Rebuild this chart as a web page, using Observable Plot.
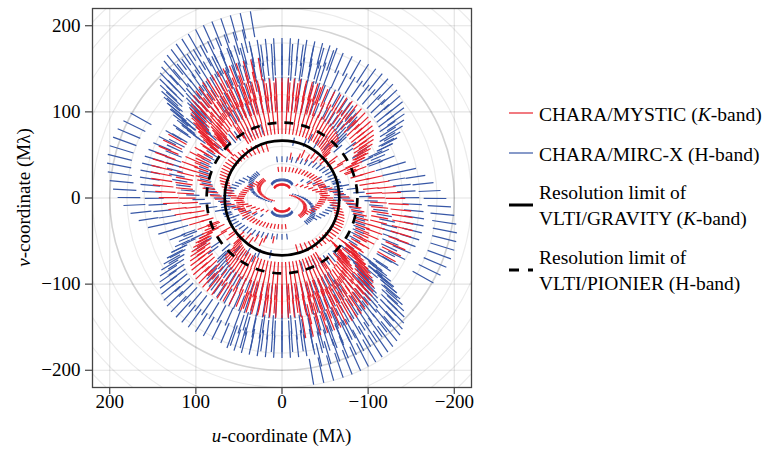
<!DOCTYPE html>
<html><head><meta charset="utf-8">
<script src="https://cdn.jsdelivr.net/npm/d3@7"></script>
<script src="https://cdn.jsdelivr.net/npm/@observablehq/plot@0.6"></script>
<style>
body{margin:0;background:#fff;}
#wrap{position:relative;width:769px;height:449px;font-family:"Liberation Serif",serif;background:#fff;}
.leg{position:absolute;left:539px;font-size:19.5px;line-height:26px;color:#000;white-space:nowrap;}
.sw{position:absolute;left:509px;}
</style></head><body><div id="wrap"></div>
<script>
// Projected baselines (metres, [u, v]) of the CHARA baseline tracks
const S1S2 = [[19.1,25.7],[18.6,26.6],[17.9,27.5],[17.1,28.4],[16.2,29.2],[15.1,30.0],[14.0,30.8],[12.7,31.4],[11.3,32.0],[9.9,32.6],[8.3,33.0],[6.8,33.4],[5.1,33.7],[3.4,33.9],[1.7,34.0],[0,34.1],[-1.7,34.0],[-3.4,33.9],[-5.1,33.7],[-6.8,33.4],[-8.3,33.0],[-9.9,32.6],[-11.3,32.0],[-12.7,31.4],[-14.0,30.8],[-15.1,30.0],[-16.2,29.2],[-17.1,28.4],[-17.9,27.5],[-18.6,26.6],[-19.1,25.7]];
const E1E2 = [[20.0,-7.1],[24.8,-6.0],[29.3,-4.6],[33.6,-3.0],[37.7,-1.2],[41.4,0.7],[44.9,2.9],[48.0,5.2],[50.7,7.7],[53.1,10.3],[55.1,13.0],[56.6,15.8],[57.7,18.7],[58.4,21.6],[58.6,24.5],[58.4,27.4],[57.7,30.3],[56.6,33.2],[55.1,36.0],[53.1,38.7],[50.7,41.3],[48.0,43.8],[44.9,46.1]];
const W1W2 = [[-9.3,-72.3],[0,-72.5],[9.3,-72.3],[18.5,-71.6],[27.5,-70.4],[36.4,-68.8],[45.0,-66.8],[53.2,-64.3],[61.0,-61.5],[68.4,-58.2],[75.2,-54.6],[81.5,-50.7],[87.2,-46.5],[92.1,-42.0],[96.4,-37.3],[100.0,-32.4],[102.8,-27.3],[104.8,-22.1],[106.0,-16.8],[106.4,-11.5],[106.0,-6.2],[104.8,-0.9],[102.8,4.3],[100.0,9.4],[96.4,14.3],[92.1,19.0],[87.2,23.5],[81.5,27.7],[75.2,31.6],[68.4,35.2],[61.0,38.5]];
const W2E2 = [[37.5,-32.7],[49.6,-30.5],[61.3,-27.7],[72.5,-24.4],[83.2,-20.5],[93.2,-16.0],[102.5,-11.1],[111.1,-5.8],[118.8,0.0],[125.6,6.1],[131.4,12.5],[136.3,19.2],[140.1,26.2],[142.8,33.3],[144.4,40.4],[145.0,47.7],[144.4,55.0],[142.8,62.1],[140.1,69.2],[136.3,76.2],[131.4,82.9],[125.6,89.3],[118.8,95.4],[111.1,101.2],[102.5,106.5],[93.2,111.4],[83.2,115.9],[72.5,119.8],[61.3,123.1],[49.6,125.9],[37.5,128.1]];
const W1E2 = [[21.6,-105.2],[42.9,-103.5],[64.0,-100.9],[84.6,-97.1],[104.5,-92.4],[123.7,-86.7],[141.9,-80.0],[159.0,-72.5],[174.9,-64.1],[189.4,-55.0],[202.6,-45.2],[214.2,-34.8],[224.1,-23.8],[232.4,-12.3],[238.9,-0.5],[243.5,11.6],[246.4,23.8],[247.3,36.2],[246.4,48.6],[243.5,60.8],[238.9,72.9],[232.4,84.7],[224.1,96.2],[214.2,107.2],[202.6,117.6],[189.4,127.4],[174.9,136.5],[159.0,144.9],[141.9,152.4],[123.7,159.1],[104.5,164.8]];
const W1E1 = [[52.9,-111.3],[78.8,-108.0],[104.2,-103.5],[128.7,-97.6],[152.3,-90.6],[174.7,-82.4],[195.8,-73.1],[215.4,-62.8],[233.3,-51.6],[249.5,-39.5],[263.8,-26.7],[276.1,-13.1],[286.2,0.9],[294.2,15.5],[300.0,30.4],[303.4,45.5],[304.6,60.7],[303.4,75.9],[300.0,91.0],[294.2,105.9],[286.2,120.5],[276.1,134.5],[263.8,148.1]];
const W2E1 = [[69.6,-37.5],[86.0,-33.6],[101.8,-28.9],[116.7,-23.4],[130.8,-17.2],[143.9,-10.3],[155.9,-2.8],[166.7,5.3],[176.2,13.9],[184.4,22.9],[191.2,32.3],[196.6,42.0],[200.4,51.9],[202.7,62.0],[203.5,72.2],[202.7,82.4],[200.4,92.5],[196.6,102.4],[191.2,112.1],[184.4,121.5],[176.2,130.5],[166.7,139.1]];
const S1E1 = [[174.4,137.2],[184.4,146.2],[193.0,155.6],[200.1,165.4],[205.6,175.6],[209.7,186.0],[212.1,196.6],[212.9,207.2],[212.1,217.8],[209.7,228.4],[205.6,238.8],[200.1,249.0],[193.0,258.8],[184.4,268.3],[174.4,277.2],[163.2,285.7],[150.5,293.5],[136.9,300.7],[122.1,307.2],[106.5,312.9],[90.0,317.9],[72.8,321.9],[55.1,325.1]];
const S2E1 = [[154.4,110.2],[165.2,118.2],[174.6,126.7],[182.7,135.6],[189.4,145.0],[194.7,154.6],[198.5,164.4],[200.8,174.4],[201.6,184.5],[200.8,194.6],[198.5,204.6],[194.7,214.4],[189.4,224.0],[182.7,233.4],[174.6,242.3],[165.2,250.8],[154.4,258.8],[142.6,266.2],[129.6,273.1],[115.6,279.2],[100.8,284.6],[85.2,289.3],[69.0,293.1]];
const S1E2 = [[151.5,142.2],[157.1,149.9],[161.5,157.9],[164.7,166.0],[166.6,174.3],[167.2,182.7],[166.6,191.1],[164.7,199.4],[161.5,207.5],[157.1,215.5],[151.5,223.2],[144.8,230.7],[137.0,237.7],[128.1,244.3],[118.2,250.5],[107.5,256.2],[95.9,261.3],[83.6,265.8],[70.7,269.6],[57.2,272.8],[43.3,275.3],[29.0,277.1],[14.6,278.2],[0,278.6],[-14.6,278.2],[-29.0,277.1],[-43.3,275.3],[-57.2,272.8],[-70.7,269.6],[-83.6,265.8],[-95.9,261.3]];
const S2E2 = [[132.6,116.1],[138.8,122.9],[143.9,130.0],[147.9,137.3],[150.8,144.8],[152.5,152.3],[153.1,160.0],[152.5,167.7],[150.8,175.2],[147.9,182.7],[143.9,190.0],[138.8,197.1],[132.6,203.9],[125.4,210.4],[117.3,216.4],[108.3,222.1],[98.4,227.3],[87.8,231.9],[76.6,236.0],[64.7,239.6],[52.4,242.5],[39.6,244.8],[26.6,246.5],[13.3,247.5],[0,247.8],[-13.3,247.5],[-26.6,246.5],[-39.6,244.8],[-52.4,242.5],[-64.7,239.6],[-76.6,236.0]];
const S1W1 = [[122.3,246.7],[106.6,252.4],[90.1,257.3],[72.9,261.4],[55.2,264.6],[37.0,266.9],[18.6,268.3],[0,268.8],[-18.6,268.3],[-37.0,266.9],[-55.2,264.6],[-72.9,261.4],[-90.1,257.3],[-106.6,252.4],[-122.3,246.7],[-137.0,240.2],[-150.8,233.0],[-163.3,225.1],[-174.6,216.6],[-184.6,207.7],[-193.2,198.2],[-200.3,188.3],[-205.9,178.2],[-210.0,167.7],[-212.4,157.2],[-213.2,146.5],[-212.4,135.8],[-210.0,125.3],[-205.9,114.8],[-200.3,104.7],[-193.2,94.8]];
const S2W1 = [[99.1,222.2],[83.7,226.8],[67.8,230.5],[51.3,233.5],[34.4,235.7],[17.3,237.0],[0,237.4],[-17.3,237.0],[-34.4,235.7],[-51.3,233.5],[-67.8,230.5],[-83.7,226.8],[-99.1,222.2],[-113.6,216.9],[-127.3,210.8],[-140.1,204.1],[-151.8,196.8],[-162.3,189.0],[-171.6,180.6],[-179.5,171.8],[-186.2,162.7],[-191.4,153.2],[-195.1,143.5],[-197.3,133.7],[-198.1,123.8],[-197.3,113.9],[-195.1,104.1],[-191.4,94.4],[-186.2,84.9],[-179.5,75.8],[-171.6,67.0]];
const S1W2 = [[114.1,172.8],[107.9,178.3],[100.9,183.5],[93.1,188.4],[84.7,192.8],[75.5,196.8],[65.9,200.4],[55.7,203.4],[45.0,205.9],[34.1,207.9],[22.9,209.4],[11.5,210.2],[0,210.5],[-11.5,210.2],[-22.9,209.4],[-34.1,207.9],[-45.0,205.9],[-55.7,203.4],[-65.9,200.4],[-75.5,196.8],[-84.7,192.8],[-93.1,188.4],[-100.9,183.5],[-107.9,178.3],[-114.1,172.8],[-119.4,166.9],[-123.8,160.8],[-127.2,154.5],[-129.7,148.1],[-131.2,141.6],[-131.7,135.0]];
const S2W2 = [[92.3,149.4],[86.3,153.8],[79.7,158.0],[72.4,161.8],[64.6,165.2],[56.4,168.2],[47.6,170.8],[38.5,173.0],[29.2,174.7],[19.6,175.9],[9.8,176.7],[0,176.9],[-9.8,176.7],[-19.6,175.9],[-29.2,174.7],[-38.5,173.0],[-47.6,170.8],[-56.4,168.2],[-64.6,165.2],[-72.4,161.8],[-79.7,158.0],[-86.3,153.8],[-92.3,149.4],[-97.6,144.6],[-102.1,139.6],[-105.9,134.4],[-108.9,129.0],[-111.0,123.5],[-112.3,117.9],[-112.7,112.3],[-112.3,106.7]];

// Spectral coverage of each instrument (micrometres): [shortest, longest]
const H_BAND = [1.50, 1.74];   // MIRC-X
const K_BAND = [2.00, 2.38];   // MYSTIC

// Resolution limits (Mλ)
const GRAVITY_LIMIT = 66.5;
const PIONIER_LIMIT = 87.5;
const CHARA_LIMIT = 200;
const ringRadii = [20,40,60,80,100,120,140,160,180,220,240,260,280,300];
const axisTicks = [200, 100, 0, -100, -200];

const BLUE = "#3757a6", RED = "#e8202a";
const tracks = [S1S2, E1E2, W1W2, W2E2, W1E2, W1E1, W2E1, S1E1, S2E1, S1E2, S2E2, S1W1, S2W1, S1W2, S2W2];

function segments(band) {
  const out = [];
  for (const tr of tracks) for (const [bu, bv] of tr) for (const s of [1, -1]) {
    out.push({x1: s*bu/band[1], y1: s*bv/band[1], x2: s*bu/band[0], y2: s*bv/band[0]});
  }
  return out;
}
const blueSegs = segments(H_BAND);
const redSegs = segments(K_BAND);

const W = 769, H = 449, mL = 92, mR = 298, mT = 8, mB = 62;
const innerW = W - mL - mR;

const chart = Plot.plot({
  width: W, height: H,
  marginLeft: mL, marginRight: mR, marginTop: mT, marginBottom: mB,
  style: {fontFamily: "Liberation Serif, serif", fontSize: "19px", background: "white", color: "black"},
  x: {domain: [220, -220], label: null},
  y: {domain: [-220, 220], label: null},
  r: {type: "linear", domain: [0, 220], range: [0, innerW / 2]},
  marks: [
    Plot.gridX(axisTicks, {stroke: "#000", strokeOpacity: 0.11, strokeWidth: 1.2}),
    Plot.gridY(axisTicks, {stroke: "#000", strokeOpacity: 0.11, strokeWidth: 1.2}),
    Plot.dot(ringRadii, {x: 0, y: 0, r: d => d, fill: "none", stroke: "#000", strokeOpacity: 0.08, strokeWidth: 1.2, clip: true}),
    Plot.dot([CHARA_LIMIT], {x: 0, y: 0, r: d => d, fill: "none", stroke: "#000", strokeOpacity: 0.17, strokeWidth: 1.6, clip: true}),
    Plot.link(blueSegs, {x1: "x1", y1: "y1", x2: "x2", y2: "y2", stroke: BLUE, strokeWidth: 1.2}),
    Plot.link(redSegs, {x1: "x1", y1: "y1", x2: "x2", y2: "y2", stroke: RED, strokeWidth: 1.2}),
    Plot.dot([GRAVITY_LIMIT], {x: 0, y: 0, r: d => d, fill: "none", stroke: "#000", strokeWidth: 2.7}),
    Plot.dot([PIONIER_LIMIT], {x: 0, y: 0, r: d => d, fill: "none", stroke: "#000", strokeWidth: 2.7, strokeDasharray: "9,8"}),
    Plot.frame({stroke: "#444", strokeWidth: 1.3}),
    Plot.axisX({ticks: axisTicks, tickSize: 7, tickPadding: 0, stroke: "#444", strokeWidth: 1.2}),
    Plot.axisY({ticks: axisTicks, tickSize: 7, tickPadding: 5, stroke: "#444", strokeWidth: 1.2})
  ]
});

const wrap = document.getElementById("wrap");
wrap.appendChild(chart);
const svg = d3.select(chart);
const xl = svg.append("text").attr("x", mL + innerW/2).attr("y", 442).attr("text-anchor", "middle").style("font-size", "19px");
xl.append("tspan").style("font-style", "italic").text("u");
xl.append("tspan").text("-coordinate (Mλ)");
const yl = svg.append("text").attr("transform", `translate(30,${mT + innerW/2}) rotate(-90)`).attr("text-anchor", "middle").style("font-size", "19px");
yl.append("tspan").style("font-style", "italic").text("v");
yl.append("tspan").text("-coordinate (Mλ)");

// Legend
const legend = [
  {y: 113, html: 'CHARA/MYSTIC (<i>K</i>-band)', ty: 102, stroke: RED, w: 1.2, dash: null},
  {y: 153, html: 'CHARA/MIRC-X (H-band)', ty: 142, stroke: BLUE, w: 1.2, dash: null},
  {y: 205, html: 'Resolution limit of<br>VLTI/GRAVITY (<i>K</i>-band)', ty: 180, stroke: "#000", w: 3, dash: null},
  {y: 270, html: 'Resolution limit of<br>VLTI/PIONIER (H-band)', ty: 245, stroke: "#000", w: 3, dash: "10,9"}
];
for (const it of legend) {
  const s = document.createElementNS("http://www.w3.org/2000/svg", "svg");
  s.setAttribute("class", "sw"); s.setAttribute("width", 24); s.setAttribute("height", 8);
  s.style.top = (it.y - 4) + "px";
  const l = document.createElementNS("http://www.w3.org/2000/svg", "line");
  l.setAttribute("x1", 0); l.setAttribute("x2", 24); l.setAttribute("y1", 4); l.setAttribute("y2", 4);
  l.setAttribute("stroke", it.stroke); l.setAttribute("stroke-width", it.w);
  if (it.dash) l.setAttribute("stroke-dasharray", it.dash);
  s.appendChild(l); wrap.appendChild(s);
  const d = document.createElement("div");
  d.className = "leg"; d.style.top = it.ty + "px"; d.innerHTML = it.html;
  wrap.appendChild(d);
}
</script></body></html>
